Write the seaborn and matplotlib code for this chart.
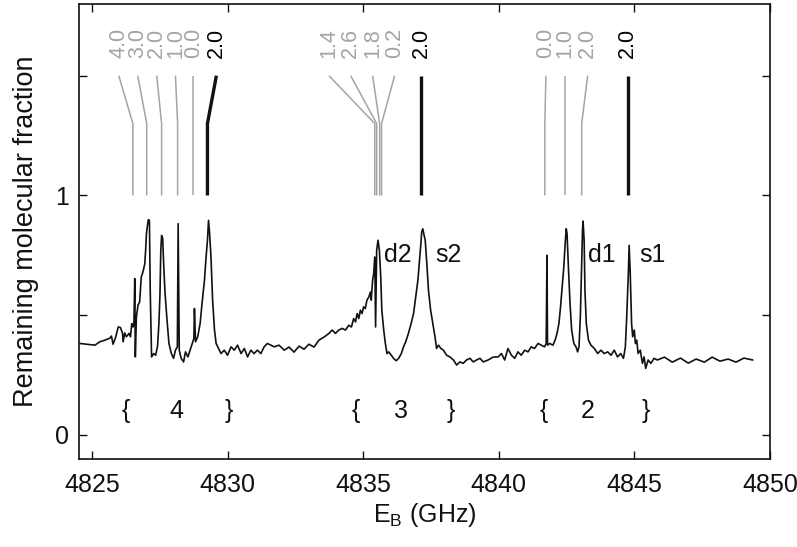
import matplotlib
matplotlib.use("Agg")
import matplotlib.pyplot as plt
import seaborn as sns
import pandas as pd

# Measured spectrum: binding energy (GHz) vs remaining molecular fraction
energy = [
    4824.56, 4825.11, 4825.29, 4825.48, 4825.66, 4825.72, 4825.78, 4825.88, 4825.97, 4826.05,
    4826.13, 4826.15, 4826.21, 4826.27, 4826.37, 4826.42, 4826.47, 4826.52, 4826.55, 4826.58,
    4826.60, 4826.64, 4826.70, 4826.76, 4826.82, 4826.88, 4826.95, 4826.98, 4827.01, 4827.04,
    4827.08, 4827.12, 4827.15, 4827.20, 4827.28, 4827.35, 4827.42, 4827.47, 4827.51, 4827.54,
    4827.57, 4827.61, 4827.64, 4827.69, 4827.76, 4827.84, 4827.93, 4828.01, 4828.08, 4828.15,
    4828.18, 4828.22, 4828.29, 4828.38, 4828.45, 4828.54, 4828.62, 4828.70, 4828.76, 4828.78,
    4828.82, 4828.90, 4828.99, 4829.06, 4829.15, 4829.21, 4829.26, 4829.30, 4829.34, 4829.39,
    4829.45, 4829.52, 4829.58, 4829.67, 4829.76, 4829.88, 4830.00, 4830.13, 4830.25, 4830.37,
    4830.50, 4830.62, 4830.74, 4830.86, 4830.98, 4831.10, 4831.23, 4831.35, 4831.47, 4831.60,
    4831.72, 4831.90, 4832.09, 4832.27, 4832.45, 4832.64, 4832.82, 4833.00, 4833.19, 4833.37,
    4833.55, 4833.74, 4833.86, 4833.98, 4834.10, 4834.23, 4834.35, 4834.47, 4834.57, 4834.65,
    4834.72, 4834.78, 4834.84, 4834.90, 4834.96, 4835.02, 4835.08, 4835.14, 4835.21, 4835.27,
    4835.30, 4835.35, 4835.39, 4835.43, 4835.46, 4835.50, 4835.55, 4835.60, 4835.65, 4835.69,
    4835.76, 4835.82, 4835.88, 4835.94, 4836.04, 4836.12, 4836.22, 4836.31, 4836.41, 4836.49,
    4836.57, 4836.67, 4836.77, 4836.86, 4836.94, 4837.02, 4837.08, 4837.13, 4837.16, 4837.20,
    4837.25, 4837.29, 4837.35, 4837.41, 4837.49, 4837.59, 4837.65, 4837.71, 4837.78, 4837.87,
    4837.96, 4838.08, 4838.20, 4838.33, 4838.45, 4838.57, 4838.69, 4838.81, 4838.94, 4839.06,
    4839.18, 4839.31, 4839.43, 4839.61, 4839.79, 4839.98, 4840.10, 4840.22, 4840.34, 4840.47,
    4840.59, 4840.71, 4840.83, 4840.96, 4841.08, 4841.20, 4841.32, 4841.45, 4841.57, 4841.69,
    4841.75, 4841.78, 4841.80, 4841.88, 4842.00, 4842.08, 4842.15, 4842.22, 4842.28, 4842.34,
    4842.40, 4842.45, 4842.49, 4842.52, 4842.57, 4842.63, 4842.69, 4842.77, 4842.85, 4842.91,
    4842.96, 4843.01, 4843.05, 4843.09, 4843.11, 4843.15, 4843.18, 4843.23, 4843.31, 4843.40,
    4843.53, 4843.65, 4843.77, 4843.89, 4844.02, 4844.14, 4844.26, 4844.38, 4844.50, 4844.60,
    4844.67, 4844.72, 4844.78, 4844.81, 4844.85, 4844.90, 4844.94, 4845.00, 4845.04, 4845.09,
    4845.14, 4845.22, 4845.30, 4845.36, 4845.42, 4845.51, 4845.61, 4845.73, 4845.85, 4846.11,
    4846.40, 4846.70, 4846.99, 4847.28, 4847.58, 4847.87, 4848.16, 4848.46, 4848.75, 4849.04,
    4849.37,
]
fraction = [
    0.382, 0.375, 0.389, 0.396, 0.404, 0.413, 0.379, 0.410, 0.451, 0.449,
    0.424, 0.389, 0.426, 0.410, 0.424, 0.410, 0.465, 0.451, 0.472, 0.653,
    0.326, 0.493, 0.542, 0.555, 0.660, 0.680, 0.715, 0.771, 0.840, 0.868,
    0.899, 0.896, 0.604, 0.326, 0.340, 0.333, 0.371, 0.465, 0.590, 0.771,
    0.833, 0.820, 0.729, 0.604, 0.493, 0.382, 0.340, 0.320, 0.354, 0.368,
    0.882, 0.354, 0.320, 0.305, 0.347, 0.326, 0.354, 0.382, 0.403, 0.528,
    0.389, 0.410, 0.465, 0.549, 0.646, 0.743, 0.813, 0.896, 0.840, 0.743,
    0.563, 0.438, 0.382, 0.361, 0.340, 0.354, 0.333, 0.368, 0.354, 0.375,
    0.340, 0.361, 0.326, 0.354, 0.340, 0.354, 0.340, 0.368, 0.382, 0.375,
    0.368, 0.375, 0.354, 0.367, 0.346, 0.371, 0.358, 0.379, 0.367, 0.396,
    0.408, 0.424, 0.438, 0.424, 0.438, 0.445, 0.438, 0.458, 0.451, 0.486,
    0.472, 0.507, 0.486, 0.521, 0.507, 0.535, 0.528, 0.563, 0.576, 0.597,
    0.563, 0.646, 0.674, 0.743, 0.451, 0.771, 0.813, 0.771, 0.660, 0.521,
    0.438, 0.382, 0.340, 0.347, 0.333, 0.320, 0.310, 0.320, 0.340, 0.368,
    0.389, 0.424, 0.465, 0.507, 0.576, 0.646, 0.729, 0.799, 0.847, 0.861,
    0.833, 0.813, 0.715, 0.604, 0.521, 0.451, 0.410, 0.361, 0.375, 0.361,
    0.354, 0.333, 0.326, 0.313, 0.292, 0.305, 0.299, 0.313, 0.320, 0.305,
    0.313, 0.320, 0.305, 0.313, 0.325, 0.326, 0.340, 0.313, 0.361, 0.333,
    0.320, 0.347, 0.333, 0.354, 0.347, 0.368, 0.361, 0.382, 0.375, 0.368,
    0.382, 0.750, 0.375, 0.382, 0.375, 0.396, 0.424, 0.465, 0.535, 0.618,
    0.701, 0.799, 0.861, 0.840, 0.701, 0.549, 0.438, 0.382, 0.368, 0.347,
    0.368, 0.493, 0.674, 0.854, 0.893, 0.813, 0.604, 0.465, 0.396, 0.375,
    0.361, 0.340, 0.354, 0.340, 0.347, 0.333, 0.354, 0.326, 0.340, 0.320,
    0.368, 0.493, 0.674, 0.792, 0.674, 0.465, 0.410, 0.438, 0.382, 0.396,
    0.340, 0.354, 0.299, 0.326, 0.278, 0.313, 0.299, 0.320, 0.313, 0.325,
    0.304, 0.321, 0.300, 0.317, 0.304, 0.325, 0.308, 0.317, 0.304, 0.321,
    0.313,
]

# Assignment sticks above the spectrum: label, label position, line position, main line
stick_labels = ["4.0", "3.0", "2.0", "1.0", "0.0", "2.0",
                "1.4", "2.6", "1.8", "0.2", "2.0",
                "0.0", "1.0", "2.0", "2.0"]
stick_label_x = [4825.99, 4826.69, 4827.39, 4828.08, 4828.74, 4829.59,
                 4833.74, 4834.54, 4835.35, 4836.16, 4837.15,
                 4841.74, 4842.44, 4843.28, 4844.75]
stick_base_x = [4826.51, 4827.02, 4827.57, 4828.16, 4828.74, 4829.26,
                4835.43, 4835.50, 4835.61, 4835.68, 4837.15,
                4841.70, 4842.44, 4843.06, 4844.75]
stick_main = [False, False, False, False, False, True,
              False, False, False, False, True,
              False, False, False, True]

# Peak annotations
peak_names = ["d2", "s2", "d1", "s1"]
peak_name_x = [4835.76, 4837.67, 4843.28, 4845.19]
peak_name_y = [0.75, 0.75, 0.75, 0.75]

# Vibrational group markers below the spectrum
group_texts = ["{", "4", "}", "{", "3", "}", "{", "2", "}"]
group_x = [4826.25, 4828.12, 4830.03, 4834.73, 4836.38, 4838.22, 4841.67, 4843.28, 4845.41]
group_y = 0.10

x_ticks = [4825, 4830, 4835, 4840, 4845, 4850]
y_ticks = [0, 0.5, 1, 1.5]
y_tick_labels = ["0", "", "1", ""]

sns.set_theme(style="ticks")
plt.rcParams["font.family"] = ["Liberation Sans", "DejaVu Sans"]
plt.rcParams["mathtext.fontset"] = "custom"
plt.rcParams["mathtext.rm"] = "Liberation Sans"
plt.rcParams["mathtext.it"] = "Liberation Sans"

FS = 18
FS_STICK = 15.5
GRAY = "#a4a4a4"
INK = "#111111"

fig = plt.figure(figsize=(7.97, 5.47), dpi=100)
ax = fig.add_axes([0.099, 0.161, 0.867, 0.832])

df = pd.DataFrame({"energy": energy, "fraction": fraction})
sns.lineplot(data=df, x="energy", y="fraction", ax=ax, color=INK,
             linewidth=1.2, sort=False, estimator=None)

y_base, y_knee, y_top = 1.0, 1.3, 1.5
for lab, xl, xb, main in zip(stick_labels, stick_label_x, stick_base_x, stick_main):
    col = INK if main else GRAY
    lw = 2.4 if main else 1.1
    ax.plot([xb, xb, xl], [y_base, y_knee, y_top], color=col, lw=lw,
            solid_capstyle="butt", solid_joinstyle="round")
    ax.text(xl, 1.575, lab, rotation=90, ha="center", va="bottom",
            fontsize=FS_STICK, color="#000000" if main else GRAY)

for name, xn, yn in zip(peak_names, peak_name_x, peak_name_y):
    ax.text(xn, yn, name, ha="left", va="center", fontsize=FS, color=INK)

for t, xg in zip(group_texts, group_x):
    ax.text(xg, group_y, t, ha="center", va="center", fontsize=FS, color=INK)

ax.set_xlim(4824.52, 4850)
ax.set_ylim(-0.1, 1.8)
ax.set_xticks(x_ticks)
ax.set_xticklabels([str(v) for v in x_ticks])
ax.set_yticks(y_ticks)
ax.set_yticklabels(y_tick_labels)
ax.tick_params(direction="in", top=True, right=True, length=6, width=1.0,
               labelsize=FS, colors=INK)
ax.tick_params(axis="x", pad=10)
ax.tick_params(axis="y", pad=7)
for sp in ax.spines.values():
    sp.set_visible(True)
    sp.set_linewidth(1.2)
    sp.set_color(INK)

ax.set_xlabel("E$_\\mathrm{B}$ (GHz)", fontsize=FS, color=INK, labelpad=3)
ax.set_ylabel("Remaining molecular fraction", fontsize=19.5, color=INK, labelpad=12)

fig.savefig("out.png", dpi=100)
